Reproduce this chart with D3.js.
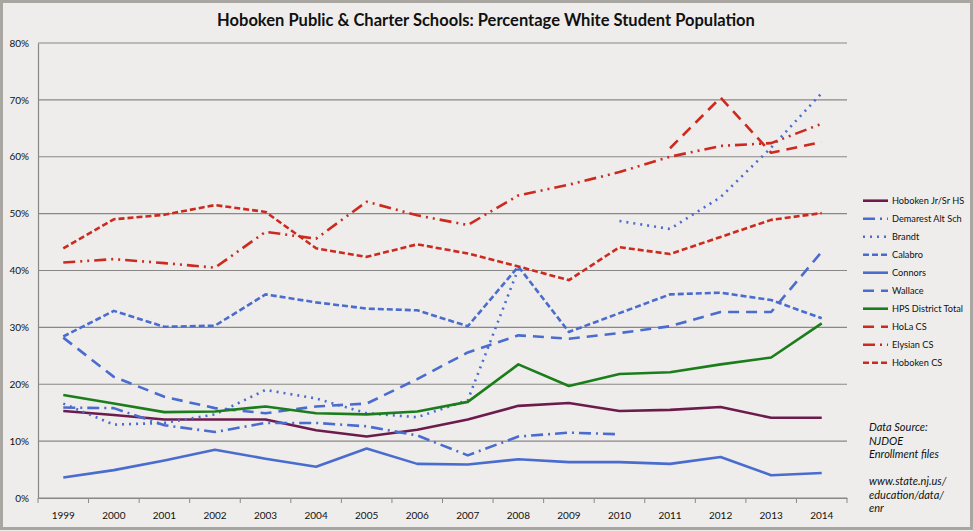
<!DOCTYPE html>
<html>
<head>
<meta charset="utf-8">
<script src="https://cdn.jsdelivr.net/npm/d3@7"></script>
<style>
	body { margin: 0; background: #eeedeb; }
	text { font-family: Lato, 'Open Sans', sans-serif; fill: #111; }
</style>
</head>
<body>
<div id="chart"></div>
<script>
// Years on the category axis
const years = ['1999', '2000', '2001', '2002', '2003', '2004', '2005', '2006',
	'2007', '2008', '2009', '2010', '2011', '2012', '2013', '2014'];

// Percentage white students per school (null = no data)
const hobokenHS = [15.3, 14.6, 13.8, 13.8, 13.8, 11.9, 10.8, 12.0, 13.8, 16.2, 16.7, 15.3, 15.5, 16.0, 14.1, 14.1];
const demarest = [15.9, 15.8, 12.8, 11.6, 13.2, 13.2, 12.6, 11.0, 7.5, 10.8, 11.5, 11.2, null, null, null, null];
const brandt = [16.6, 12.9, 13.2, 14.7, 19.0, 17.5, 14.9, 14.2, 17.2, 40.3, null, 48.7, 47.3, 52.9, 61.6, 71.2];
const calabro = [28.4, 32.9, 30.1, 30.3, 35.8, 34.4, 33.3, 33.0, 30.2, 40.7, 29.2, 32.5, 35.8, 36.1, 34.8, 31.6];
const connors = [3.6, 4.9, 6.6, 8.5, 6.9, 5.5, 8.7, 6.0, 5.9, 6.8, 6.3, 6.3, 6.0, 7.2, 4.0, 4.4];
const wallace = [28.2, 21.3, 17.8, 15.8, 14.9, 16.1, 16.6, 20.9, 25.6, 28.6, 28.0, 29.0, 30.2, 32.7, 32.7, 43.3];
const hpsTotal = [18.1, 16.6, 15.1, 15.2, 16.1, 14.9, 14.7, 15.2, 16.9, 23.5, 19.7, 21.8, 22.1, 23.5, 24.7, 30.7];
const holaCS = [null, null, null, null, null, null, null, null, null, null, null, null, 61.5, 70.4, 60.7, 62.6];
const elysianCS = [41.4, 42.0, 41.3, 40.5, 46.8, 45.6, 52.1, 49.7, 48.0, 53.2, 55.1, 57.3, 60.0, 61.9, 62.4, 65.8];
const hobokenCS = [43.9, 49.0, 49.8, 51.5, 50.3, 43.9, 42.4, 44.6, 43.0, 40.7, 38.3, 44.1, 42.9, 45.9, 48.9, 50.1];

const yTicks = [0, 10, 20, 30, 40, 50, 60, 70, 80];

const sourceLines = ['Data Source:', 'NJDOE', 'Enrollment files', '', 'www.state.nj.us/', 'education/data/', 'enr'];

const blue = '#4a6ccf';
const red = '#cc2a1e';

// Series table built from the arrays above
const series = [
	{ name: 'Hoboken Jr/Sr HS', values: hobokenHS, color: '#6b1c4d', dash: null },
	{ name: 'Demarest Alt Sch', values: demarest, color: blue, dash: '12,5,2,5' },
	{ name: 'Brandt', values: brandt, color: blue, dash: '2,5' },
	{ name: 'Calabro', values: calabro, color: blue, dash: '6,3' },
	{ name: 'Connors', values: connors, color: blue, dash: null },
	{ name: 'Wallace', values: wallace, color: blue, dash: '11,7' },
	{ name: 'HPS District Total', values: hpsTotal, color: '#1b7d1b', dash: null },
	{ name: 'HoLa CS', values: holaCS, color: red, dash: '11,7' },
	{ name: 'Elysian CS', values: elysianCS, color: red, dash: '12,5,2,5,2,5' },
	{ name: 'Hoboken CS', values: hobokenCS, color: red, dash: '6,3' },
];

const W = 973, H = 531;
const plot = { left: 38, right: 847, top: 43, bottom: 498 };

const svg = d3.select('#chart')
	.append('svg')
	.attr('width', W)
	.attr('height', H);

// Background and outer frame
svg.append('rect')
	.attr('x', 1.5).attr('y', 1.5)
	.attr('width', W - 3).attr('height', H - 4)
	.attr('fill', '#eeedeb')
	.attr('stroke', '#a9a5a1')
	.attr('stroke-width', 3);

const x = d3.scaleBand()
	.domain(years)
	.range([plot.left, plot.right]);

const y = d3.scaleLinear()
	.domain([0, 80])
	.range([plot.bottom, plot.top]);

// Horizontal gridlines
svg.append('g')
	.selectAll('line')
	.data(yTicks)
	.enter()
	.append('line')
	.attr('x1', plot.left)
	.attr('x2', plot.right)
	.attr('y1', (d) => y(d))
	.attr('y2', (d) => y(d))
	.attr('stroke', '#8a8886')
	.attr('stroke-width', 1.2);

// Y axis
const yAxis = svg.append('g')
	.attr('transform', `translate(${plot.left},0)`)
	.call(d3.axisLeft(y).tickValues(yTicks).tickSize(0).tickPadding(9).tickFormat((d) => d + '%'));
yAxis.select('.domain').attr('stroke', '#8a8886').attr('stroke-width', 1.2);
yAxis.selectAll('text').style('font-size', '10px').attr('font-family', 'Lato, sans-serif');

// X axis with ticks at the category boundaries
const xAxis = svg.append('g')
	.attr('transform', `translate(0,${plot.bottom})`)
	.call(d3.axisBottom(x).tickSize(0).tickPadding(14));
xAxis.select('.domain').attr('stroke', '#8a8886').attr('stroke-width', 1.2);
xAxis.selectAll('text').style('font-size', '10px').attr('font-family', 'Lato, sans-serif');
xAxis.selectAll('.bound')
	.data(years.concat(['end']))
	.enter()
	.append('line')
	.attr('class', 'bound')
	.attr('x1', (d, i) => plot.left + i * x.bandwidth())
	.attr('x2', (d, i) => plot.left + i * x.bandwidth())
	.attr('y1', 0)
	.attr('y2', 5)
	.attr('stroke', '#8a8886');

// Lines
const line = d3.line()
	.defined((d) => d != null)
	.x((d, i) => x(years[i]) + x.bandwidth() / 2)
	.y((d) => y(d));

svg.append('g')
	.selectAll('path')
	.data(series)
	.enter()
	.append('path')
	.attr('d', (d) => line(d.values))
	.attr('fill', 'none')
	.attr('stroke', (d) => d.color)
	.attr('stroke-width', 2.6)
	.attr('stroke-linejoin', 'round')
	.attr('stroke-dasharray', (d) => d.dash);

// Legend
const legend = svg.append('g')
	.selectAll('g')
	.data(series)
	.enter()
	.append('g')
	.attr('transform', (d, i) => `translate(863,${200.7 + i * 18})`);

legend.append('line')
	.attr('x1', 0)
	.attr('x2', 25)
	.attr('stroke', (d) => d.color)
	.attr('stroke-width', 2.6)
	.attr('stroke-dasharray', (d) => d.dash);

legend.append('text')
	.attr('x', 29)
	.attr('dy', '0.35em')
	.style('font-size', '9.2px')
	.text((d) => d.name);

// Data source note
svg.append('g')
	.selectAll('text')
	.data(sourceLines)
	.enter()
	.append('text')
	.attr('x', 869)
	.attr('y', (d, i) => 431 + i * 13.5)
	.style('font-size', '11px')
	.style('font-style', 'italic')
	.text((d) => d);

// Title
svg.append('text')
	.attr('x', 486)
	.attr('y', 26)
	.attr('text-anchor', 'middle')
	.style('font-size', '16.5px')
	.style('font-weight', 'bold')
	.text('Hoboken Public & Charter Schools: Percentage White Student Population');
</script>
</body>
</html>
